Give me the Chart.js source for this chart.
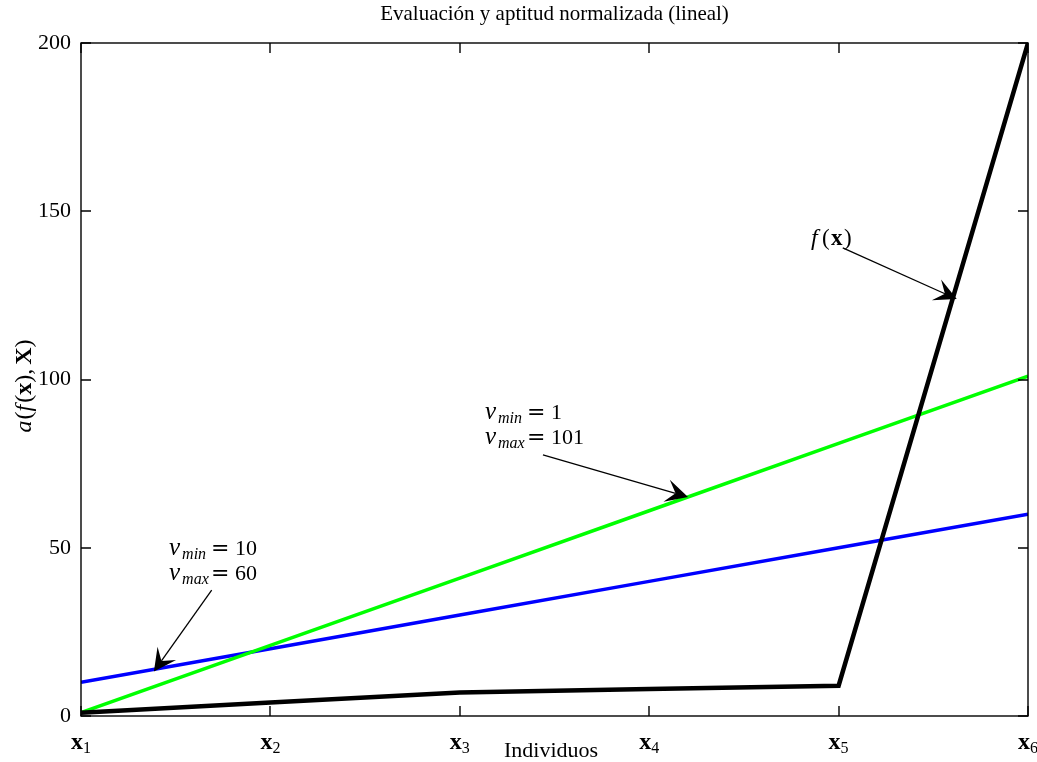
<!DOCTYPE html>
<html><head><meta charset="utf-8">
<script src="https://cdn.jsdelivr.net/npm/chart.js@4/dist/chart.umd.min.js"></script>
<style>html,body{margin:0;padding:0;background:#fff;overflow:hidden}</style>
</head><body>
<canvas id="c" width="1037" height="762"></canvas>
<script>
// ---- data ----
const categories = ['1','2','3','4','5','6'];        // subscripts of x_i
const fValues = [1, 4, 7, 8, 9, 200];                // f(x)
const norm1to101 = [1, 21, 41, 61, 81, 101];         // vmin=1, vmax=101
const norm10to60 = [10, 20, 30, 40, 50, 60];         // vmin=10, vmax=60
const yTicks = [0, 50, 100, 150, 200];
const titleText = 'Evaluación y aptitud normalizada (lineal)';
const xAxisLabel = 'Individuos';

// annotations (data coordinates)
const annotations = [
  {kind:'v', x:0.465, y:47.8, lines:[['min','10'],['max','60']], from:[0.690,37.4], to:[0.385,13.2]},
  {kind:'v', x:2.133, y:88.2, lines:[['min','1'],['max','101']], from:[2.439,77.6], to:[3.205,65.1]},
  {kind:'f', x:3.854, y:140.0, from:[4.022,139.1], to:[4.624,123.9]}
];

const SERIF = '"Liberation Serif", "Times New Roman", serif';
const fs = 22, sub = 15;

function runs(ctx, x, y, list){
  let cx = x;
  for (const r of list){
    ctx.font = r.f;
    ctx.fillText(r.t, cx + (r.dx||0), y + (r.dy||0));
    cx += ctx.measureText(r.t).width + (r.dx||0) + (r.gap||0);
  }
  return cx - x;
}
function runsWidth(ctx, list){
  let w = 0;
  for (const r of list){ ctx.font = r.f; w += ctx.measureText(r.t).width + (r.dx||0) + (r.gap||0); }
  return w;
}
function arrow(ctx, x1, y1, x2, y2){
  const ang = Math.atan2(y2-y1, x2-x1);
  const L = 25, half = 27*Math.PI/180, notch = 13;
  const nx = x2 - notch*Math.cos(ang), ny = y2 - notch*Math.sin(ang);
  ctx.beginPath(); ctx.moveTo(x1,y1); ctx.lineTo(nx,ny);
  ctx.lineWidth = 1.3; ctx.strokeStyle = '#000'; ctx.stroke();
  ctx.beginPath();
  ctx.moveTo(x2,y2);
  ctx.lineTo(x2 - L*Math.cos(ang-half), y2 - L*Math.sin(ang-half));
  ctx.lineTo(nx, ny);
  ctx.lineTo(x2 - L*Math.cos(ang+half), y2 - L*Math.sin(ang+half));
  ctx.closePath(); ctx.fillStyle = '#000'; ctx.fill();
}

const deco = {
  id:'deco',
  afterDraw(chart){
    const ctx = chart.ctx, a = chart.chartArea, xs = chart.scales.x, ys = chart.scales.y;
    ctx.save();
    // frame
    ctx.strokeStyle = '#000'; ctx.lineWidth = 1.4;
    ctx.strokeRect(a.left, a.top, a.right - a.left, a.bottom - a.top);
    // ticks (inward)
    ctx.beginPath();
    categories.forEach((c,i)=>{
      const px = Math.round(xs.getPixelForValue(i));
      ctx.moveTo(px, a.bottom); ctx.lineTo(px, a.bottom - 10);
      ctx.moveTo(px, a.top); ctx.lineTo(px, a.top + 10);
    });
    yTicks.forEach(v=>{
      const py = Math.round(ys.getPixelForValue(v));
      ctx.moveTo(a.left, py); ctx.lineTo(a.left + 10, py);
      ctx.moveTo(a.right, py); ctx.lineTo(a.right - 10, py);
    });
    ctx.stroke();
    ctx.fillStyle = '#000'; ctx.textBaseline = 'alphabetic'; ctx.textAlign = 'left';
    // x tick labels
    categories.forEach((c,i)=>{
      const px = xs.getPixelForValue(i);
      const list = [{t:'x', f:`bold 24px ${SERIF}`}, {t:c, f:`16px ${SERIF}`, dy:4}];
      const w = runsWidth(ctx, list);
      runs(ctx, px - w/2, 749, list);
    });
    // title & axis labels
    ctx.textAlign = 'center';
    ctx.font = `21px ${SERIF}`;
    ctx.fillText(titleText, (a.left + a.right)/2, 20);
    ctx.font = `${fs}px ${SERIF}`;
    ctx.fillText(xAxisLabel, 551, 757);
    ctx.textAlign = 'left';
    // y label
    ctx.save();
    ctx.translate(31, 386); ctx.rotate(-Math.PI/2);
    const yf = 24;
    const yl = [
      {t:'a', f:`italic ${yf}px ${SERIF}`, gap:1},
      {t:'(', f:`${yf}px ${SERIF}`},
      {t:'f', f:`italic ${yf}px ${SERIF}`, gap:2},
      {t:'(', f:`${yf}px ${SERIF}`},
      {t:'x', f:`bold ${yf}px ${SERIF}`},
      {t:')', f:`${yf}px ${SERIF}`},
      {t:',', f:`${yf}px ${SERIF}`, gap:4},
      {t:'X', f:`bold ${yf}px ${SERIF}`},
      {t:')', f:`${yf}px ${SERIF}`}
    ];
    const yw = runsWidth(ctx, yl);
    runs(ctx, -yw/2, 0, yl);
    ctx.restore();
    // annotations
    annotations.forEach(an=>{
      const ox = xs.getPixelForValue(an.x), oy = ys.getPixelForValue(an.y);
      if (an.kind === 'v'){
        an.lines.forEach((ln, k)=>{
          const by = oy + k*25;
          ctx.font = `italic 25px ${SERIF}`; ctx.fillText('v', ox, by);
          ctx.font = `italic 16px ${SERIF}`; ctx.fillText(ln[0], ox + 13, by + 4);
          ctx.font = `${fs}px "DejaVu Serif", serif`; ctx.fillText('=', ox + 42, by);
          ctx.font = `${fs}px ${SERIF}`; ctx.fillText(ln[1], ox + 66, by);
        });
      } else {
        ctx.font = `italic 24px ${SERIF}`; ctx.fillText('f', ox, oy);
        ctx.font = `23px ${SERIF}`; ctx.fillText('(', ox + 11, oy);
        ctx.font = `bold 23px ${SERIF}`; ctx.fillText('x', ox + 20, oy);
        ctx.font = `23px ${SERIF}`; ctx.fillText(')', ox + 33, oy);
      }
      arrow(ctx, xs.getPixelForValue(an.from[0]), ys.getPixelForValue(an.from[1]),
                 xs.getPixelForValue(an.to[0]), ys.getPixelForValue(an.to[1]));
    });
    ctx.restore();
  }
};

const pts = arr => arr.map((v,i)=>({x:i, y:v}));
new Chart(document.getElementById('c'), {
  type:'line',
  data:{datasets:[
    {label:'f(x)', data:pts(fValues), borderColor:'#000000', borderWidth:4.5},
    {label:'vmin=1, vmax=101', data:pts(norm1to101), borderColor:'#00ff00', borderWidth:3.5},
    {label:'vmin=10, vmax=60', data:pts(norm10to60), borderColor:'#0000ff', borderWidth:3.5}
  ]},
  options:{
    responsive:false, animation:false, devicePixelRatio:1,
    layout:{padding:{left:0, right:9, top:43, bottom:0}},
    plugins:{legend:{display:false}, tooltip:{enabled:false}, title:{display:false}},
    elements:{point:{radius:0}, line:{tension:0, borderJoinStyle:'miter', borderCapStyle:'butt', fill:false}},
    scales:{
      x:{type:'linear', min:0, max:5, grid:{display:false}, border:{display:false},
         ticks:{display:false}, afterFit(s){ s.height = 46; }},
      y:{type:'linear', min:0, max:200,
         afterBuildTicks(s){ s.ticks = yTicks.map(v=>({value:v})); },
         grid:{display:false, drawTicks:false}, border:{display:false},
         ticks:{font:{family:SERIF, size:22}, color:'#000', padding:10},
         afterFit(s){ s.width = 81; }}
    }
  },
  plugins:[deco]
});
</script>
</body></html>
